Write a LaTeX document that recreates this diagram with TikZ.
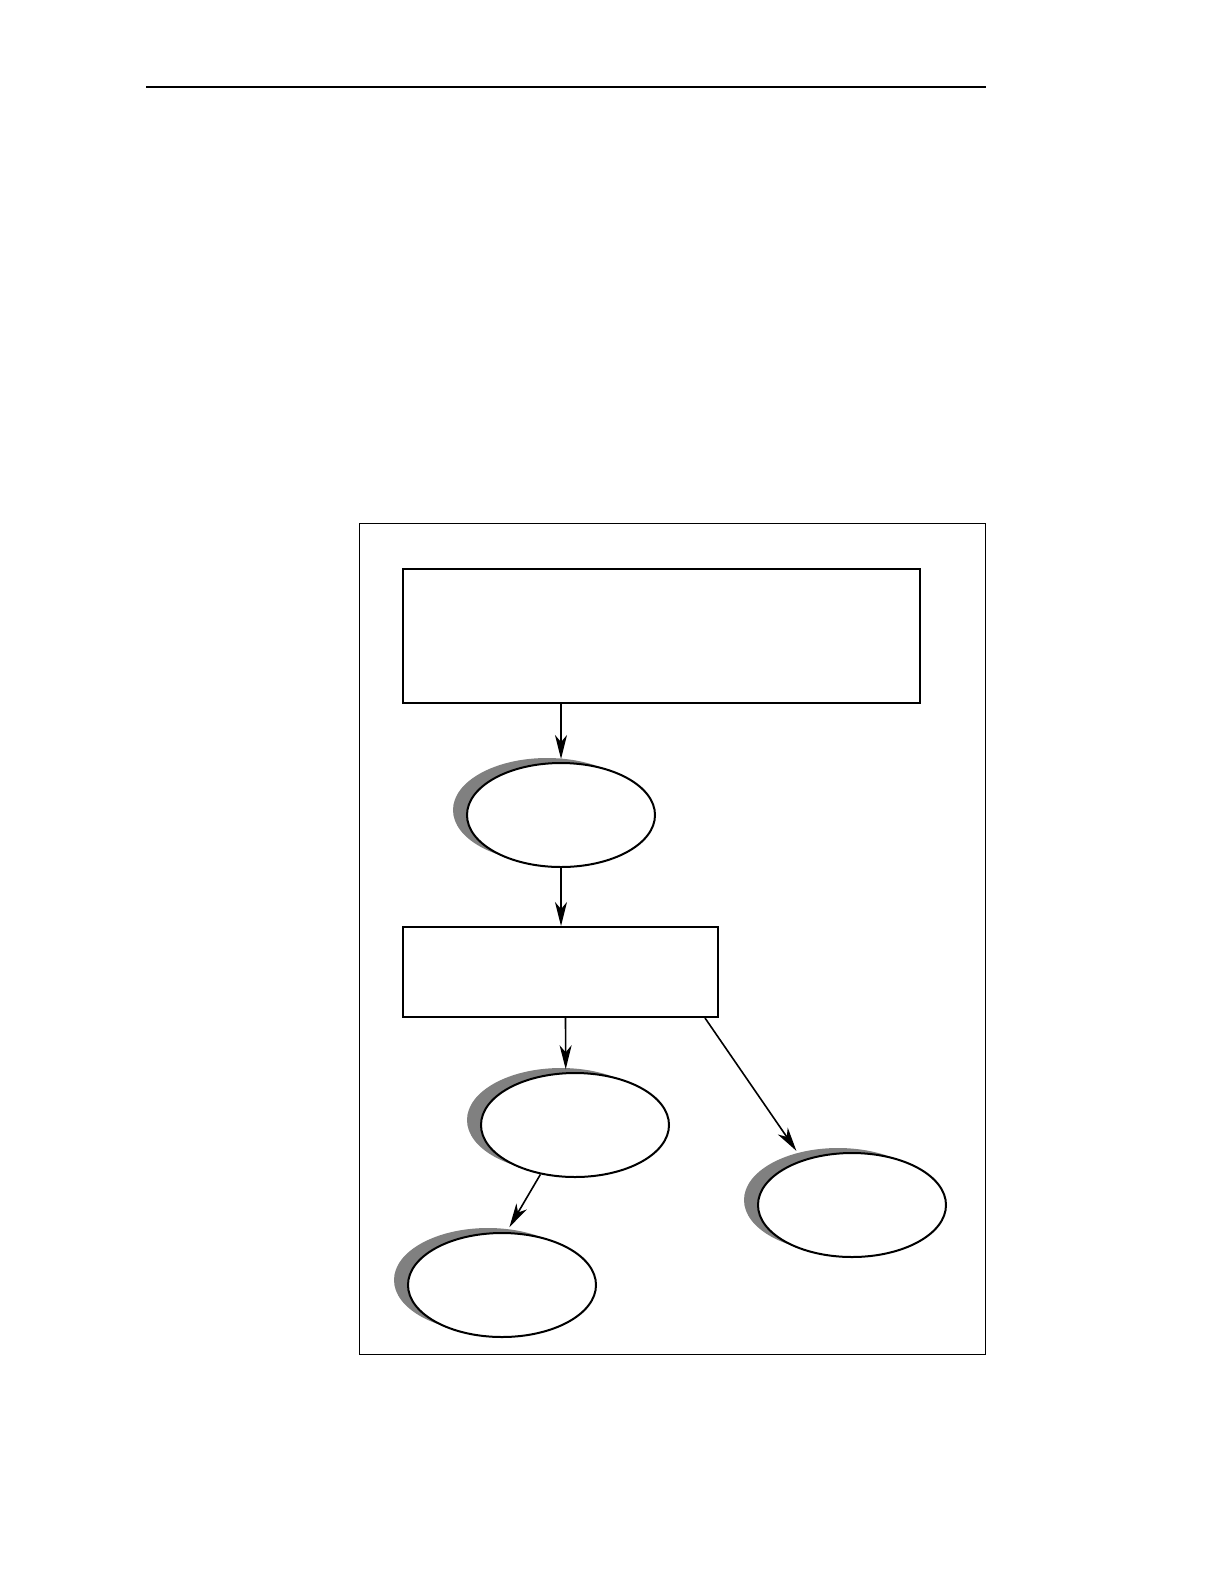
\documentclass[tikz,border=0pt]{standalone}
\usepackage{tikz}
\usetikzlibrary{arrows.meta,positioning,shadows,shapes.geometric}

\begin{document}
\begin{tikzpicture}[x=0.5bp, y=-0.5bp,
  box/.style = {draw, line width=1bp, rectangle, inner sep=0pt},
  bubble/.style = {draw, line width=1bp, ellipse, fill=white, inner sep=0pt,
    minimum width=94bp, minimum height=52bp,
    drop shadow={shadow xshift=-7bp, shadow yshift=2.5bp, fill=black!50, opacity=1}},
  link/.style = {line width=0.8bp, -{Stealth[length=12bp, width=6bp, inset=3.5bp]}}]
\node [box, minimum width=258.5bp, minimum height=67bp] (top) at (661.5,636) {};
\node [bubble] (e_1) at (561,815) {};
\node [box, minimum width=157.5bp, minimum height=45bp] (box_2) at (560.5,972) {};
\node [bubble] (e_2) at (575,1125) {};
\node [bubble] (e_3) at (852,1205) {};
\node [bubble] (e_4) at (502,1285) {};
\draw [link] (top.south -| e_1.north) -- ([yshift=1.5bp]e_1.north);
\draw [link] (e_1.south) -- (e_1.south |- box_2.north);
\draw [link] ([xshift=2.5bp]box_2.south) -- ([yshift=1.5bp]e_2.100);
\draw [link] ([xshift=-7bp]box_2.south east) -- ([xshift=-1.5bp,yshift=5bp]e_3.140);
\draw [link] (e_2.235) -- ([yshift=2.5bp]e_4.82);
\draw [line width=1bp] (146,87) -- (986,87);
\draw [line width=0.5bp] (359,523) rectangle (985,1354);
\pgfresetboundingbox
\useasboundingbox (0,0) rectangle (1224,1584);
\end{tikzpicture}
\end{document}
